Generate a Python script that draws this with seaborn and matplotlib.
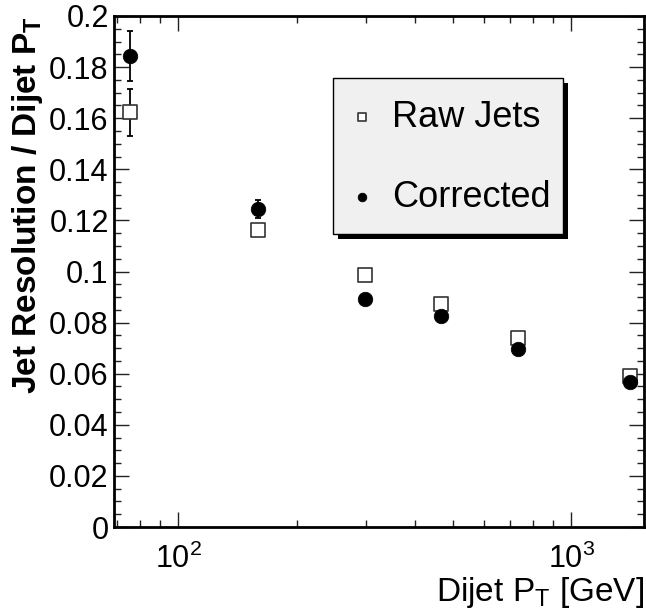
import numpy as np
import pandas as pd
import matplotlib
matplotlib.use("Agg")
import matplotlib.pyplot as plt
from matplotlib.patches import Rectangle
from matplotlib.transforms import IdentityTransform
from matplotlib.ticker import LogLocator, MultipleLocator, FormatStrFormatter, NullFormatter
import seaborn as sns

# values
pt = [75.5, 159.5, 299, 466, 733, 1410]
raw_res = [0.1623, 0.1162, 0.0986, 0.0874, 0.0741, 0.0591]
raw_err = [0.0093, 0.0020, 0.0008, 0.0008, 0.0008, 0.0008]
corr_res = [0.1845, 0.1245, 0.0891, 0.0826, 0.0697, 0.0566]
corr_err = [0.0098, 0.0034, 0.0008, 0.0008, 0.0008, 0.0008]
labels = ["Raw Jets", "Corrected"]

sns.set_style("ticks")
plt.rcParams["font.family"] = ["Liberation Sans", "DejaVu Sans"]
plt.rcParams["mathtext.default"] = "regular"
plt.rcParams["text.color"] = "black"
plt.rcParams["axes.labelcolor"] = "black"

fig = plt.figure(figsize=(6.46, 6.10), dpi=100)
ax = fig.add_axes([0.1769, 0.136, 0.8205, 0.8378])

df = pd.DataFrame({
    "pt": pt + pt,
    "res": raw_res + corr_res,
    "err": raw_err + corr_err,
    "kind": [labels[0]] * len(pt) + [labels[1]] * len(pt),
})

# error bars first, markers on top
for lab in labels:
    sub = df[df["kind"] == lab]
    ax.errorbar(sub["pt"], sub["res"], yerr=sub["err"], fmt="none",
                ecolor="black", elinewidth=1.3, capsize=2.5, capthick=1.3, zorder=2)

sub = df[df["kind"] == labels[0]]
sns.scatterplot(x=sub["pt"], y=sub["res"], ax=ax, marker="s", s=110,
                facecolor="white", edgecolor="#333333", linewidth=1.2,
                label=labels[0], zorder=3)
sub = df[df["kind"] == labels[1]]
sns.scatterplot(x=sub["pt"], y=sub["res"], ax=ax, marker="o", s=110,
                color="black", edgecolor="black", linewidth=0.5,
                label=labels[1], zorder=4)

ax.set_xscale("log")
ax.set_xlim(68.7, 1535)
ax.set_ylim(0, 0.2)

ax.xaxis.set_major_locator(LogLocator(base=10))
ax.xaxis.set_minor_locator(LogLocator(base=10, subs=np.arange(2, 10)))
ax.xaxis.set_minor_formatter(NullFormatter())
ax.yaxis.set_major_locator(MultipleLocator(0.02))
ax.yaxis.set_minor_locator(MultipleLocator(0.005))
ax.yaxis.set_major_formatter(FormatStrFormatter("%g"))

ax.tick_params(which="both", direction="in", top=True, right=True,
               color="#222222", labelcolor="black", width=1.0, labelsize=22)
ax.tick_params(which="major", length=11)
ax.tick_params(which="minor", length=5)
ax.tick_params(axis="x", which="major", pad=12)
ax.tick_params(axis="y", which="major", pad=4)

for s in ax.spines.values():
    s.set_linewidth(2)
    s.set_color("black")

ax.set_xlabel(r"Dijet P$_T$ [GeV]", fontsize=24, loc="right", labelpad=0)
ax.set_ylabel(r"Jet Resolution / Dijet P$_T$", fontsize=24, fontweight="bold",
              loc="top", labelpad=3)

# legend entries without frame; box and shadow drawn ROOT-style below
top_frac = 0.8787 - 9 / 511
leg = ax.legend(loc="upper left", bbox_to_anchor=(0.4126, top_frac), fontsize=26,
                frameon=False, borderpad=0.35, labelspacing=1.25, handlelength=0.9,
                handletextpad=0.38, borderaxespad=0, markerscale=0.6)
leg.set_zorder(6)

fig.canvas.draw()
bb = leg.get_window_extent()
box_h = 156
y_top = bb.y1 + 9
ax.add_patch(Rectangle((bb.x0 + 5, y_top - box_h - 5), bb.width, box_h,
                       transform=IdentityTransform(), facecolor="black",
                       edgecolor="none", zorder=5, clip_on=False))
ax.add_patch(Rectangle((bb.x0, y_top - box_h), bb.width, box_h,
                       transform=IdentityTransform(), facecolor="#f0f0f0",
                       edgecolor="black", linewidth=1, zorder=5.1, clip_on=False))

fig.savefig("out.png", dpi=100)
